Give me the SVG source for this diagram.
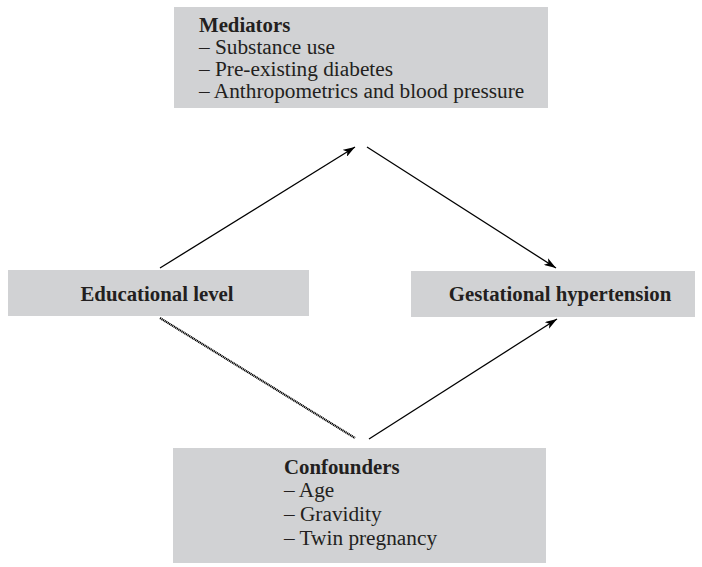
<svg xmlns="http://www.w3.org/2000/svg" width="702" height="567" viewBox="0 0 702 567">
<style>
.box{fill:#d1d2d4;}
.t{font-family:"Liberation Serif","DejaVu Serif",serif;font-size:21.3px;fill:#231f20;}
.b{font-weight:bold;font-size:20.8px;}
.c{stroke:#000;stroke-width:1.3;fill:none;}
.d{stroke:#000;stroke-width:2.2;stroke-dasharray:1.2 0.6;fill:none;}
</style>
<defs>
<marker id="ah" viewBox="0 0 12 8" refX="12" refY="4" markerWidth="12" markerHeight="8" markerUnits="userSpaceOnUse" orient="auto">
<path d="M0,0 L12,4 L0,8 L3,4 Z" fill="#000"/>
</marker>
</defs>
<g id="mediators">
<rect class="box" x="174" y="7" width="374" height="101"/>
<text class="t b" x="199" y="32">Mediators</text>
<text class="t" x="199" y="54">– Substance use</text>
<text class="t" x="199" y="76">– Pre-existing diabetes</text>
<text class="t" x="199" y="98">– Anthropometrics and blood pressure</text>
</g>
<g id="educational">
<rect class="box" x="8" y="270" width="301" height="46"/>
<text class="t b" x="157" y="301" text-anchor="middle">Educational level</text>
</g>
<g id="gestational">
<rect class="box" x="411" y="271" width="284" height="46"/>
<text class="t b" x="560" y="301" text-anchor="middle">Gestational hypertension</text>
</g>
<g id="confounders">
<rect class="box" x="173" y="448" width="373" height="115"/>
<text class="t b" x="284" y="474">Confounders</text>
<text class="t" x="284" y="497">– Age</text>
<text class="t" x="284" y="521">– Gravidity</text>
<text class="t" x="284" y="545">– Twin pregnancy</text>
</g>
<g id="connectors">
<line class="c" x1="160" y1="268" x2="355" y2="147" marker-end="url(#ah)"/>
<line class="c" x1="367" y1="147" x2="556" y2="268" marker-end="url(#ah)"/>
<line class="d" x1="160" y1="318" x2="355" y2="438"/>
<line class="c" x1="369" y1="439" x2="557" y2="319" marker-end="url(#ah)"/>
</g>
</svg>
